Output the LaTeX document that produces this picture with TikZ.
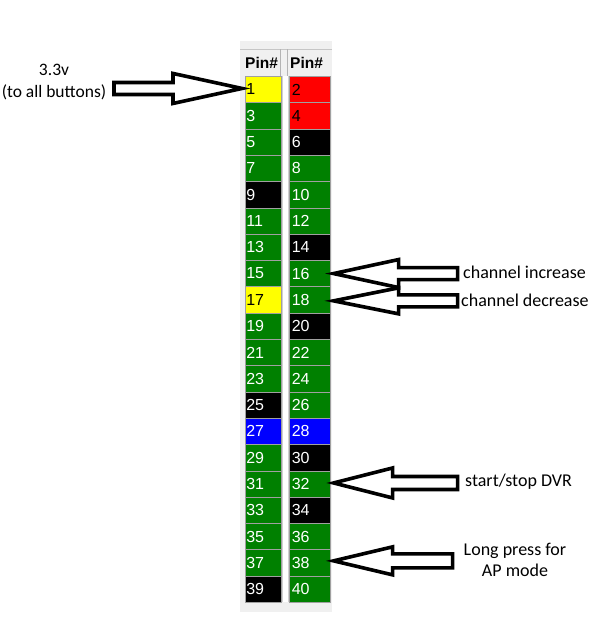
\documentclass[tikz,border=0pt]{standalone}
\usepackage{fontspec}
\setmainfont{Liberation Sans}
\newfontfamily\labelfont{Carlito}
\usetikzlibrary{calc}
\definecolor{pinY}{RGB}{255,255,0}
\definecolor{pinR}{RGB}{255,0,0}
\definecolor{pinG}{RGB}{0,128,0}
\definecolor{pinK}{RGB}{0,0,0}
\definecolor{pinB}{RGB}{0,0,255}
\definecolor{panel}{RGB}{240,240,240}
\definecolor{sep}{RGB}{160,160,160}
\begin{document}
\begin{tikzpicture}[x=1pt,y=-1pt,
  pY/.style={fill=pinY,text=black},
  pR/.style={fill=pinR,text=black},
  pG/.style={fill=pinG,text=white},
  pK/.style={fill=pinK,text=white},
  pB/.style={fill=pinB,text=white},
  cell/.style={draw=sep,line width=0.6pt,anchor=north west,minimum height=26.3pt,
    inner xsep=1pt,inner ysep=0pt,align=left,font=\fontsize{16}{18}\selectfont},
  lcell/.style={cell,text width=34pt},
  rcell/.style={cell,inner xsep=2.5pt,text width=36pt},
  hdr/.style={anchor=west,inner sep=0pt,font=\fontsize{15.5}{17}\selectfont\bfseries},
  lbl/.style={inner sep=0pt,font=\labelfont\fontsize{18}{21.5}\selectfont},
  blk/.style={draw=black,fill=white,line width=3.6pt,line join=miter}]
\useasboundingbox (0,0) rectangle (615,627);
% panel
\fill[panel] (240,41) rectangle (332,612);
\draw[sep!60,line width=0.6pt] (240,49) -- (332,49);
\draw[sep!80,line width=0.6pt] (280,49) -- (280,76) (287,49) -- (287,76);
\fill[white] (282,76) rectangle (288,602);
\draw[sep!50,line width=0.5pt] (282,76) -- (282,602) (288,76) -- (288,602);
\node[hdr] (h1) at (245,63) {Pin\#};
\node[hdr] (h2) at (290,63) {Pin\#};
% cells
\foreach \a/\ca/\b/\cb [count=\r from 0] in {
  1/pY/2/pR, 3/pG/4/pR, 5/pG/6/pK, 7/pG/8/pG, 9/pK/10/pG,
  11/pG/12/pG, 13/pG/14/pK, 15/pG/16/pG, 17/pY/18/pG, 19/pG/20/pK,
  21/pG/22/pG, 23/pG/24/pG, 25/pK/26/pG, 27/pB/28/pB, 29/pG/30/pK,
  31/pG/32/pG, 33/pG/34/pK, 35/pG/36/pG, 37/pG/38/pG, 39/pK/40/pG}{
  \node[lcell,\ca] (P\a) at (245,76+26.3*\r) {\a};
  \node[rcell,\cb] (P\b) at (289,76+26.3*\r) {\b};
}
% arrow tips
\coordinate (t1) at ($(P1.west)+(-3,-1)$);
\coordinate (t16) at ($(P16.east)+(3,0)$);
\coordinate (t18) at ($(P18.east)+(3,1)$);
\coordinate (t32) at ($(P32.east)+(3,-1)$);
\coordinate (t38) at ($(P38.east)+(3,-2)$);
% block arrows
\draw[blk] (t1) -- ++(-69,-15) -- ++(0,9) -- ++(-59,0) -- ++(0,12) -- ++(59,0) -- ++(0,9) -- cycle;
\draw[blk] (t16) -- ++(65,-14) -- ++(0,8) -- ++(59,0) -- ++(0,12) -- ++(-59,0) -- ++(0,8) -- cycle;
\draw[blk] (t18) -- ++(65,-13) -- ++(0,7) -- ++(59,0) -- ++(0,12) -- ++(-59,0) -- ++(0,7) -- cycle;
\draw[blk] (t32) -- ++(59,-15) -- ++(0,8.5) -- ++(65,0) -- ++(0,13) -- ++(-65,0) -- ++(0,8.5) -- cycle;
\draw[blk] (t38) -- ++(59,-14) -- ++(0,7) -- ++(60,0) -- ++(0,14) -- ++(-60,0) -- ++(0,7) -- cycle;
% labels
\node[lbl,align=center,font=\labelfont\fontsize{17.5}{21.5}\selectfont] (l1) at (54,82) {3.3v\\(to all buttons)};
\node[lbl,anchor=west] (l16) at (463,272) {channel increase};
\node[lbl,anchor=west] (l18) at (461,300) {channel decrease};
\node[lbl,anchor=west] (l32) at (465,482) {start/stop DVR};
\node[lbl,align=center] (l38) at (515,560) {Long press for\\AP mode};
\end{tikzpicture}
\end{document}
